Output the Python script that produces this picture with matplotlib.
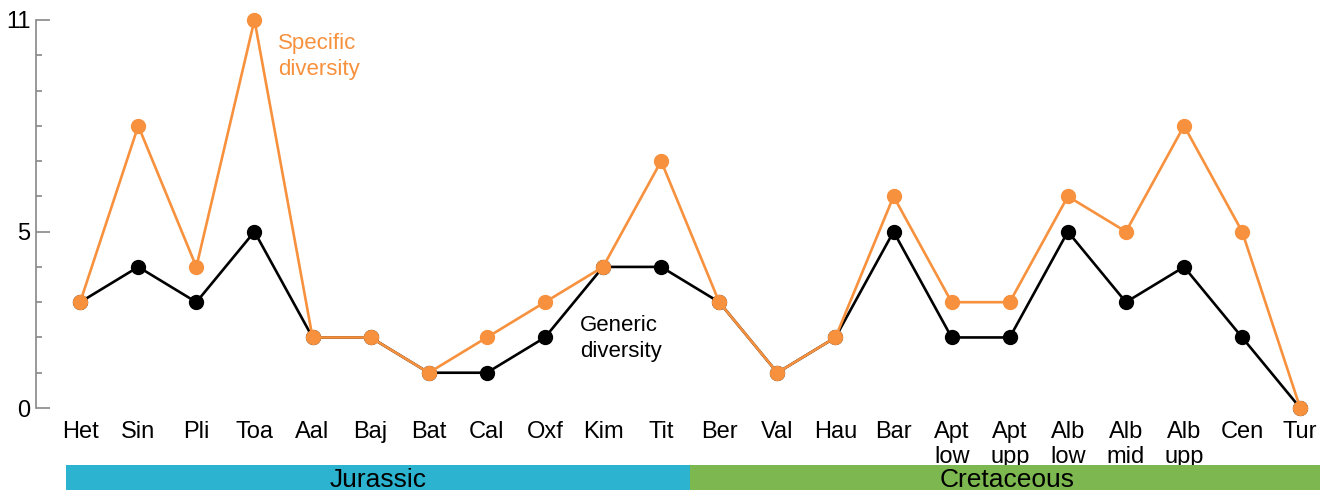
import numpy as np
import matplotlib
matplotlib.use("Agg")
import matplotlib.pyplot as plt

plt.rcParams['font.family'] = ['Liberation Sans', 'DejaVu Sans']

# stages and diversity counts
stages = ['Het', 'Sin', 'Pli', 'Toa', 'Aal', 'Baj', 'Bat', 'Cal', 'Oxf', 'Kim', 'Tit',
          'Ber', 'Val', 'Hau', 'Bar', 'Apt\nlow', 'Apt\nupp', 'Alb\nlow', 'Alb\nmid',
          'Alb\nupp', 'Cen', 'Tur']
specific = [3, 8, 4, 11, 2, 2, 1, 2, 3, 4, 7, 3, 1, 2, 6, 3, 3, 6, 5, 8, 5, 0]
generic = [3, 4, 3, 5, 2, 2, 1, 1, 2, 4, 4, 3, 1, 2, 5, 2, 2, 5, 3, 4, 2, 0]

periods = ['Jurassic', 'Cretaceous']
period_span = [(-0.24, 10.5), (10.5, 21.4)]
period_colors = ['#2bb3cf', '#7cb84f']

orange = '#f7913d'
W, H = 1326, 490
fig = plt.figure(figsize=(W / 100, H / 100), dpi=100)

xl = (-0.76, 21.34)
ax = fig.add_axes([36 / W, (H - 408) / H, (1320 - 36) / W, 388 / H])
x = np.arange(len(stages))
ax.plot(x, generic, color='black', lw=1.9, marker='o', ms=10, clip_on=False, zorder=3)
ax.plot(x, specific, color=orange, lw=1.9, marker='o', ms=10, clip_on=False, zorder=4)

ax.set_xlim(*xl)
ax.set_ylim(0, 11)
ax.set_yticks([0, 5, 11])
ax.set_yticks([1, 2, 3, 4, 6, 7, 8, 9, 10], minor=True)
ax.set_yticklabels(['0', '5', '11'], fontsize=17)
ax.tick_params(axis='y', which='major', direction='in', length=10, color='#888888', width=1.2, pad=4)
ax.tick_params(axis='y', which='minor', direction='in', length=4.5, color='#888888', width=1.2)
ax.set_xticks(x)
ax.set_xticklabels(stages, fontsize=17, linespacing=1.2, va='top')
ax.tick_params(axis='x', length=0, pad=9)
for s in ['top', 'right', 'bottom']:
    ax.spines[s].set_visible(False)
ax.spines['left'].set_color('#888888')
ax.spines['left'].set_linewidth(1.2)

ax.text(3.4, 9.97, 'Specific\ndiversity', color=orange, fontsize=16, va='center', ha='left',
        linespacing=1.3)
ax.text(8.6, 1.98, 'Generic\ndiversity', color='black', fontsize=16, va='center', ha='left',
        linespacing=1.3)

# period band along the bottom
bx = fig.add_axes([36 / W, 0, (1320 - 36) / W, 25 / H])
for name, (a, b), c in zip(periods, period_span, period_colors):
    bx.axvspan(a, b, color=c, lw=0)
    bx.text((a + b) / 2, 0.14, name, ha='center', va='baseline', fontsize=19, clip_on=False)
bx.set_xlim(*xl)
bx.set_ylim(0, 1)
bx.axis('off')

fig.savefig('out.png', dpi=100)
